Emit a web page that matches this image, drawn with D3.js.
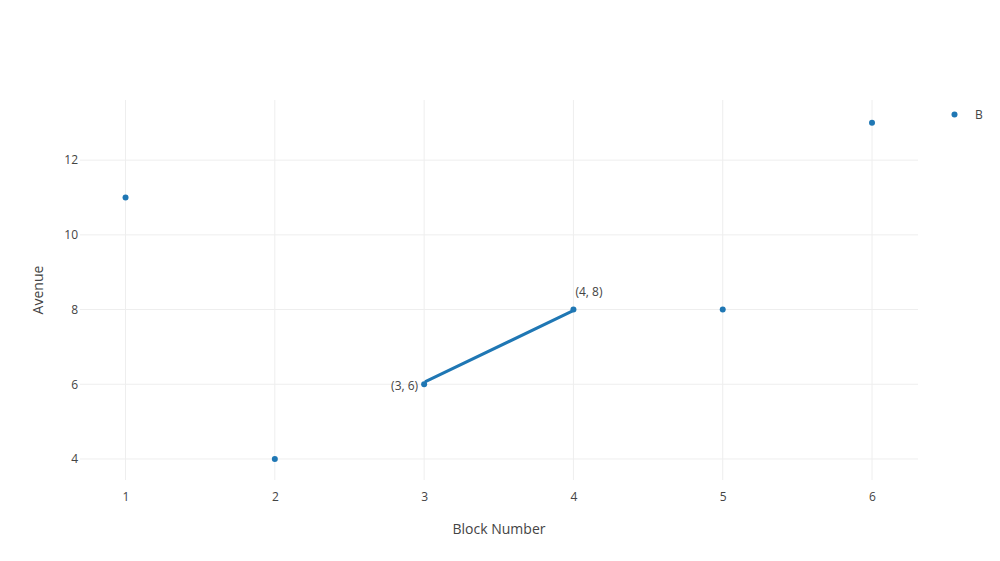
<!DOCTYPE html>
<html><head><meta charset="utf-8">
<script src="https://cdn.jsdelivr.net/npm/d3@7"></script>
<style>body{margin:0;background:#fff}svg{font-family:"Open Sans",sans-serif}</style>
</head><body><svg id="c" width="1000" height="561"></svg>
<script>
const xValues = [1, 2, 3, 4, 5, 6];
const yValues = [11, 4, 6, 8, 8, 13];
const xTicks = [1, 2, 3, 4, 5, 6];
const yTicks = [4, 6, 8, 10, 12];
const seriesName = "B";
const segment = [[3, 6], [4, 8]];
const labels = [{x: 3, y: 6, text: "(3, 6)", pos: "left"}, {x: 4, y: 8, text: "(4, 8)", pos: "topright"}];

const color = "#1f77b4";
const svg = d3.select("#c");
const L = 80, R = 918, T = 100, B = 480;
const x = d3.scaleLinear().domain([0.695, 6.308]).range([L, R]);
const y = d3.scaleLinear().domain([3.437, 13.61]).range([B, T]);

const g = svg.append("g");
g.selectAll(".vg").data(xTicks).join("line")
  .attr("x1", d => x(d)).attr("x2", d => x(d)).attr("y1", T).attr("y2", B)
  .attr("stroke", "#eee").attr("stroke-width", 1);
g.selectAll(".hg").data(yTicks).join("line")
  .attr("x1", L).attr("x2", R).attr("y1", d => y(d)).attr("y2", d => y(d))
  .attr("stroke", "#eee").attr("stroke-width", 1);

const xa = svg.append("g").attr("transform", `translate(0,${B})`)
  .call(d3.axisBottom(x).tickValues(xTicks).tickFormat(d3.format("d")).tickSize(0).tickPadding(12));
xa.select(".domain").remove();
xa.selectAll("text").attr("font-size", 12).attr("fill", "#444").attr("font-family", "Open Sans");
const ya = svg.append("g").attr("transform", `translate(${L},0)`)
  .call(d3.axisLeft(y).tickValues(yTicks).tickFormat(d3.format("d")).tickSize(0).tickPadding(2));
ya.select(".domain").remove();
ya.selectAll("text").attr("font-size", 12).attr("fill", "#444").attr("font-family", "Open Sans");

svg.append("text").attr("x", (L + R) / 2).attr("y", 534).attr("text-anchor", "middle")
  .attr("font-size", 14).attr("fill", "#444").text("Block Number");
svg.append("text").attr("transform", `translate(43,${(T + B) / 2}) rotate(-90)`).attr("text-anchor", "middle")
  .attr("font-size", 14).attr("fill", "#444").text("Avenue");

const [p0, p1] = segment.map(d => [x(d[0]), y(d[1])]);
const dx = p1[0] - p0[0], dy = p1[1] - p0[1], len = Math.hypot(dx, dy);
const ux = dx / len, uy = dy / len, inset = 2;
svg.append("line")
  .attr("x1", p0[0] + ux * inset).attr("y1", p0[1] + uy * inset - 2)
  .attr("x2", p1[0] - ux * inset).attr("y2", p1[1] - uy * inset + 1)
  .attr("stroke", color).attr("stroke-width", 3).attr("stroke-linecap", "round");

svg.selectAll(".pt").data(xValues.map((v, i) => [v, yValues[i]])).join("circle")
  .attr("cx", d => x(d[0])).attr("cy", d => y(d[1])).attr("r", 3).attr("fill", color);

labels.forEach(l => {
  const t = svg.append("text").attr("font-size", 12).attr("fill", "#444").text(l.text);
  if (l.pos === "left") t.attr("x", x(l.x) - 6).attr("y", y(l.y) + 6).attr("text-anchor", "end");
  else t.attr("x", x(l.x) + 2).attr("y", y(l.y) - 14).attr("text-anchor", "start");
});

svg.append("circle").attr("cx", 954.5).attr("cy", 114.5).attr("r", 3).attr("fill", color);
svg.append("text").attr("x", 975).attr("y", 119).attr("font-size", 12).attr("fill", "#444").text(seriesName);
</script></body></html>
